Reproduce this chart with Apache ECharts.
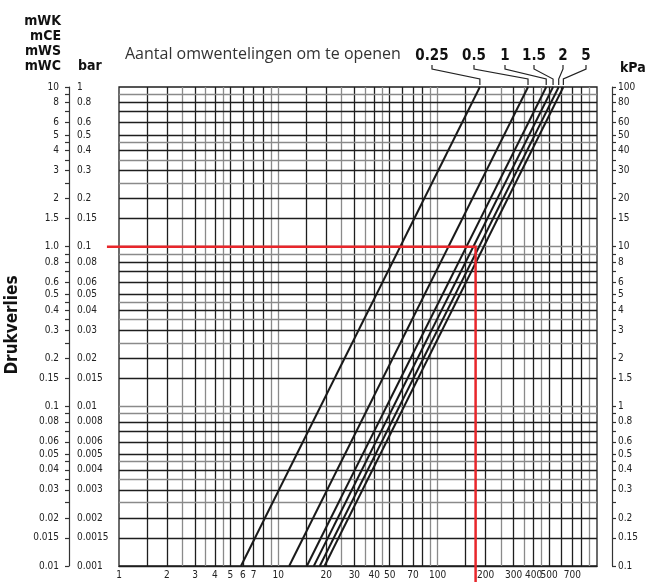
<!DOCTYPE html>
<html>
<head>
<meta charset="utf-8">
<script src="https://cdn.jsdelivr.net/npm/echarts@6/dist/echarts.min.js"></script>
<style>
html,body{margin:0;padding:0;background:#fff;}
#c{width:648px;height:582px;}
</style>
</head>
<body>
<div id="c"></div>
<script>
// ---- data ----
const turnLabels = ['0.25', '0.5', '1', '1.5', '2', '5'];      // Aantal omwentelingen om te openen
const flowAtLowDp = [5.83, 11.7, 15.1, 16.7, 18.2, 19.5];      // flow at 0.01 mWC
const flowAtHighDp = [184, 369, 480, 530, 575, 615];           // flow at 10 mWC
const dpLow = 0.01, dpHigh = 10;                               // mWC
const redFlow = 173, redDp = 1;                                // example reading

const xLabels = ['1','2','3','4','5','6','7','10','20','30','40','50','70','100','200','300','400','500','700'];
const mwcLabels = ['10','8','6','5','4','3','2','1.5','1.0','0.8','0.6','0.5','0.4','0.3','0.2','0.15','0.1','0.08','0.06','0.05','0.04','0.03','0.02','0.015','0.01'];
const barLabels = ['1','0.8','0.6','0.5','0.4','0.3','0.2','0.15','0.1','0.08','0.06','0.05','0.04','0.03','0.02','0.015','0.01','0.008','0.006','0.005','0.004','0.003','0.002','0.0015','0.001'];
const kpaLabels = ['100','80','60','50','40','30','20','15','10','8','6','5','4','3','2','1.5','1','0.8','0.6','0.5','0.4','0.3','0.2','0.15','0.1'];
const gridSteps = [1, 1.5, 2, 2.5, 3, 3.5, 4, 4.5, 5, 6, 7, 8, 9];
const lightSteps = [1, 2.5, 3.5, 4.5, 9];

// ---- helpers ----
const NARROW = "'Liberation Sans Narrow','DejaVu Sans Condensed',sans-serif";
function fmt(list) {
  return function (v) {
    for (const s of list) {
      if (Math.abs(Math.log10(v) - Math.log10(Number(s))) < 1e-6) return s;
    }
    return '';
  };
}
function gridValues(decades) {
  const out = [];
  decades.forEach(d => gridSteps.forEach(s => out.push({v: +(s * d).toPrecision(6), light: lightSteps.indexOf(s) >= 0})));
  return out;
}
const xGrid = gridValues([1, 10, 100]).filter(g => g.v > 1 && g.v < 1000);
const yGrid = gridValues([0.01, 0.1, 1]).filter(g => g.v > 0.01 && g.v < 10);
const DARK = '#1e1e1e', LIGHT = '#8a8a8a';
const gridLineData = [];
xGrid.forEach(g => gridLineData.push({coords: [[g.v, dpLow], [g.v, dpHigh]], lineStyle: {color: g.light ? LIGHT : DARK}}));
yGrid.forEach(g => gridLineData.push({coords: [[1, g.v], [1000, g.v]], lineStyle: {color: g.light ? LIGHT : DARK}}));
const yTickVals = [dpLow].concat(yGrid.map(g => g.v)).concat([dpHigh]);

const chart = echarts.init(document.getElementById('c'), null, {renderer: 'canvas'});

const series = [{
  type: 'lines', coordinateSystem: 'cartesian2d', z: 1, silent: true,
  lineStyle: {width: 1.3, opacity: 1},
  data: gridLineData
}];
turnLabels.forEach((t, i) => {
  series.push({
    name: t, type: 'line', z: 3, symbol: 'none', silent: true,
    lineStyle: {color: '#1a1a1a', width: 2},
    data: [[flowAtLowDp[i], dpLow], [flowAtHighDp[i], dpHigh]]
  });
});
series.push({
  type: 'lines', coordinateSystem: 'cartesian2d', polyline: true, clip: false, z: 5, silent: true,
  lineStyle: {color: '#e8262b', width: 2.5, opacity: 1},
  data: [{coords: [[0.84, redDp], [redFlow, redDp], [redFlow, 0.0078]]}]
});

const tickFont = {fontSize: 10, color: '#222', fontFamily: NARROW};
chart.setOption({
  animation: false,
  grid: {left: 119, top: 87, width: 478, height: 479, show: true, borderColor: '#1e1e1e', borderWidth: 1.3, backgroundColor: 'transparent'},
  xAxis: {
    type: 'log', min: 1, max: 1000,
    axisLine: {show: true, lineStyle: {color: '#1e1e1e', width: 1.3}},
    axisTick: {show: false},
    splitLine: {show: false},
    minorTick: {show: false},
    axisLabel: Object.assign({customValues: xLabels.map(Number), formatter: fmt(xLabels), margin: 4}, tickFont)
  },
  yAxis: [{
    type: 'log', min: dpLow, max: dpHigh, position: 'left', offset: 50,
    axisLine: {show: true, lineStyle: {color: '#333', width: 1.2}},
    axisTick: {show: true, customValues: yTickVals, length: 4, lineStyle: {color: '#333', width: 1.2}},
    splitLine: {show: false},
    axisLabel: Object.assign({customValues: mwcLabels.map(Number), formatter: fmt(mwcLabels), margin: 10}, tickFont)
  }, {
    type: 'log', min: 0.001, max: 1, position: 'left', offset: 50,
    axisLine: {show: false}, axisTick: {show: false}, splitLine: {show: false},
    axisLabel: Object.assign({inside: true, customValues: barLabels.map(Number), formatter: fmt(barLabels), margin: 8}, tickFont)
  }, {
    type: 'log', min: 0.1, max: 100, position: 'right', offset: 15,
    axisLine: {show: true, lineStyle: {color: '#333', width: 1.2}},
    axisTick: {show: true, customValues: yTickVals.map(v => +(v * 10).toPrecision(6)), length: 4, lineStyle: {color: '#333', width: 1.2}},
    splitLine: {show: false},
    axisLabel: Object.assign({customValues: kpaLabels.map(Number), formatter: fmt(kpaLabels), margin: 6}, tickFont)
  }],
  series: series
});

// ---- annotations ----
const labelX = [432, 474, 505, 534, 563, 586];
const graphics = [];
turnLabels.forEach((t, i) => {
  const p = chart.convertToPixel({xAxisIndex: 0, yAxisIndex: 0}, [flowAtHighDp[i], dpHigh]);
  const ax = p[0];
  graphics.push({type: 'text', x: labelX[i], y: 56, z: 10, style: {text: t, align: 'center', verticalAlign: 'middle', font: "bold 15px " + NARROW, fill: '#111'}});
  graphics.push({type: 'polyline', z: 10, shape: {points: [[labelX[i], 65], [labelX[i], 69], [ax, 79], [ax, 85]]}, style: {stroke: '#222', lineWidth: 1.2, fill: null}});
});
graphics.push({type: 'text', x: 125, y: 54, style: {text: 'Aantal omwentelingen om te openen', verticalAlign: 'middle', font: "16px 'Open Sans',sans-serif", fill: '#333'}});
graphics.push({type: 'text', x: 620, y: 68, style: {text: 'kPa', verticalAlign: 'middle', font: "bold 14px " + NARROW, fill: '#111'}});
graphics.push({type: 'text', x: 78, y: 66, style: {text: 'bar', verticalAlign: 'middle', font: "bold 14px " + NARROW, fill: '#111'}});
['mWK', 'mCE', 'mWS', 'mWC'].forEach((s, i) => {
  graphics.push({type: 'text', x: 61, y: 21 + i * 15, style: {text: s, align: 'right', verticalAlign: 'middle', font: "bold 14px " + NARROW, fill: '#111'}});
});
graphics.push({type: 'text', x: 13, y: 325, rotation: Math.PI / 2, style: {text: 'Drukverlies', align: 'center', verticalAlign: 'middle', font: "bold 17px " + NARROW, fill: '#111'}});
chart.setOption({graphic: graphics});
</script>
</body>
</html>
